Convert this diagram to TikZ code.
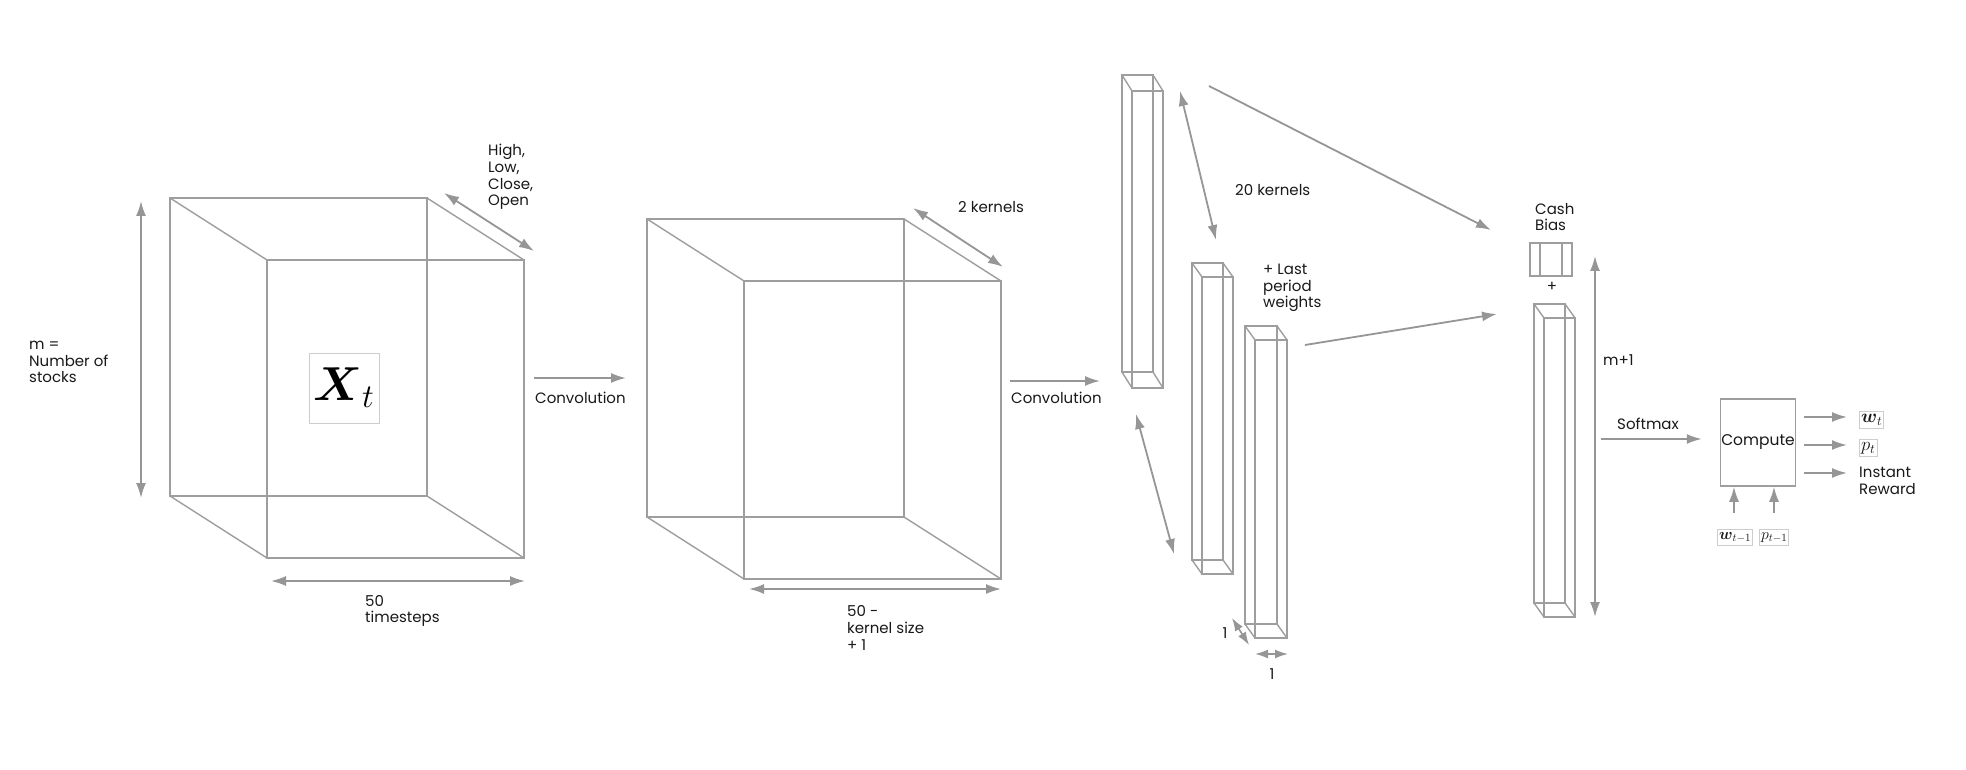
\documentclass[tikz,border=0pt]{standalone}
\usepackage{amsmath}
\usepackage{fontspec}
\setmainfont{Poppins}
\usetikzlibrary{arrows.meta,calc}
\definecolor{linegray}{RGB}{158,158,158}
\definecolor{arrgray}{RGB}{150,150,150}
\definecolor{boxgray}{RGB}{205,205,205}
\definecolor{txt}{RGB}{25,25,25}
\newcommand\cuboidshape[6]{%
  \draw[wire] (#1,#2) rectangle ++(#3,#4);
  \draw[wire] (#1+#5,#2+#6) rectangle ++(#3,#4);
  \draw[wire] (#1,#2) -- ++(#5,#6);
  \draw[wire] (#1+#3,#2) -- ++(#5,#6);
  \draw[wire] (#1,#2+#4) -- ++(#5,#6);
  \draw[wire] (#1+#3,#2+#4) -- ++(#5,#6);
}
\newcommand\scaledmath[2]{\scalebox{#1}{$#2$}}
\tikzset{
  wire/.style={draw=linegray, line width=1.4pt},
  arr/.style={draw=arrgray, line width=1.8pt, -{Latex[length=15pt,width=10pt]}},
  darr/.style={draw=arrgray, line width=1.8pt, {Latex[length=15pt,width=10pt]}-{Latex[length=15pt,width=10pt]}},
  sarr/.style={draw=arrgray, line width=1.6pt, {Latex[length=13pt,width=9pt]}-{Latex[length=13pt,width=9pt]}},
  lbl/.style={font=\fontsize{15}{16.7}\selectfont, text=txt, inner sep=0pt, align=left, anchor=west},
  mbox/.style={draw=boxgray, line width=1pt, inner xsep=1.5pt, inner ysep=3pt, fill=white, text=txt, font=\fontsize{14.4}{16}\selectfont},
}
\begin{document}
\begin{tikzpicture}[x=1pt,y=-1pt]
\useasboundingbox[fill=white] (0,0) rectangle (1966,770);

% ---- cube 1 (input) ----
\cuboidshape{170}{198}{257}{298}{97}{62}
\node[draw=boxgray, line width=1pt, fill=white, minimum width=70pt, minimum height=70pt, inner sep=0pt] (xt) at (344,388)
  {\fontsize{20.74}{22}\selectfont\scaledmath{2.3}{\boldsymbol{X}_t}};
\coordinate (v1a) at (141,201); \coordinate (v1b) at (141,498);
\draw[darr] (v1a) -- (v1b);
\node[lbl] (mlab) at (29,362) {m =\\Number of\\stocks};
\coordinate (h1a) at (271,581); \coordinate (h1b) at (525,581);
\draw[darr] (h1a) -- (h1b);
\node[lbl] (tlab) at (365,611) {50\\timesteps};
\coordinate (d1a) at (444,193); \coordinate (d1b) at (534,251);
\draw[darr] (d1a) -- (d1b);
\node[lbl] (hlco) at (488,177) {High,\\Low,\\Close,\\Open};

% ---- convolution 1 ----
\coordinate (c1s) at (534,378); \coordinate (c1e) at (626,378);
\draw[arr] (c1s) -- (c1e);
\node[lbl] (conv1) at (535,398) {Convolution};

% ---- cube 2 ----
\cuboidshape{647}{219}{257}{298}{97}{62}
\coordinate (d2a) at (913,208); \coordinate (d2b) at (1003,267);
\draw[darr] (d2a) -- (d2b);
\node[lbl] (k2) at (958,207) {2 kernels};
\coordinate (h2a) at (749,589); \coordinate (h2b) at (1001,589);
\draw[darr] (h2a) -- (h2b);
\node[lbl] (ksz) at (847,628) {50 -\\kernel size\\+ 1};

% ---- convolution 2 ----
\coordinate (c2s) at (1010,381); \coordinate (c2e) at (1100,381);
\draw[arr] (c2s) -- (c2e);
\node[lbl] (conv2) at (1011,398) {Convolution};

% ---- bars ----
\cuboidshape{1122}{75}{31}{297}{10}{16}
\cuboidshape{1192}{263}{31}{297}{10}{14}
\cuboidshape{1245}{326}{32}{298}{10}{14}
\coordinate (u1) at (1180,91); \coordinate (u2) at (1216,240);
\draw[darr] (u1) -- (u2);
\coordinate (l1) at (1136,414); \coordinate (l2) at (1174,554);
\draw[darr] (l1) -- (l2);
\node[lbl] (k20) at (1235,190) {20 kernels};
\node[lbl] (lpw) at (1263,288) {+ Last\\period\\weights};
\coordinate (s1a) at (1232,618); \coordinate (s1b) at (1249,645);
\draw[sarr] (s1a) -- (s1b);
\node[lbl, anchor=center] (one1) at (1225,633) {1};
\coordinate (s2a) at (1255,654); \coordinate (s2b) at (1288,654);
\draw[sarr] (s2a) -- (s2b);
\node[lbl, anchor=center] (one2) at (1272,674) {1};

% ---- to cash bias / final bar ----
\coordinate (la) at (1209,86); \coordinate (lb) at (1491,230);
\draw[arr] (la) -- (lb);
\coordinate (ma) at (1305,345); \coordinate (mb) at (1497,314);
\draw[arr] (ma) -- (mb);

\node[lbl] (cash) at (1535,217) {Cash\\Bias};
\cuboidshape{1530}{243}{32}{33}{10}{0}
\node[lbl, anchor=center] (plus) at (1552,287) {+};
\cuboidshape{1534}{304}{31}{299}{10}{14}
\coordinate (ma1) at (1595,256); \coordinate (ma2) at (1595,617);
\draw[darr] (ma1) -- (ma2);
\node[lbl] (m1) at (1603,360) {m+1};

% ---- softmax & compute ----
\node[draw=linegray, line width=1.5pt, minimum width=75pt, minimum height=87pt, inner sep=0pt,
      font=\fontsize{15.5}{16}\selectfont, text=txt] (comp) at (1758,442.5) {Compute};
\coordinate (sma) at (1601,439);
\draw[arr] (sma) -- ([xshift=-18pt]sma -| comp.west);
\node[lbl] (smx) at (1617,424) {Softmax};

\node[mbox, anchor=west] (wt) at (1859,420) {\scaledmath{1.3}{\boldsymbol{w}_t}};
\node[mbox, anchor=west] (pt) at (1859,448) {\scaledmath{1.3}{p_t}};
\node[lbl] (rew) at (1859,481) {Instant\\Reward};
\coordinate (o1) at (1804,417); \coordinate (o2) at (1804,445); \coordinate (o3) at (1804,473);
\draw[arr] (o1) -- ++(43,0);
\draw[arr] (o2) -- ++(43,0);
\draw[arr] (o3) -- ++(43,0);

\node[mbox, anchor=north west] (wt1) at (1717,529) {\scaledmath{1.1}{\boldsymbol{w}_{t-1}}};
\node[mbox, anchor=north west] (pt1) at (1759,529) {\scaledmath{1.1}{p_{t-1}}};
\coordinate (i1) at (1734,513); \coordinate (i2) at (1774,513);
\draw[arr] (i1) -- (i1 |- comp.south);
\draw[arr] (i2) -- (i2 |- comp.south);
\end{tikzpicture}
\end{document}
